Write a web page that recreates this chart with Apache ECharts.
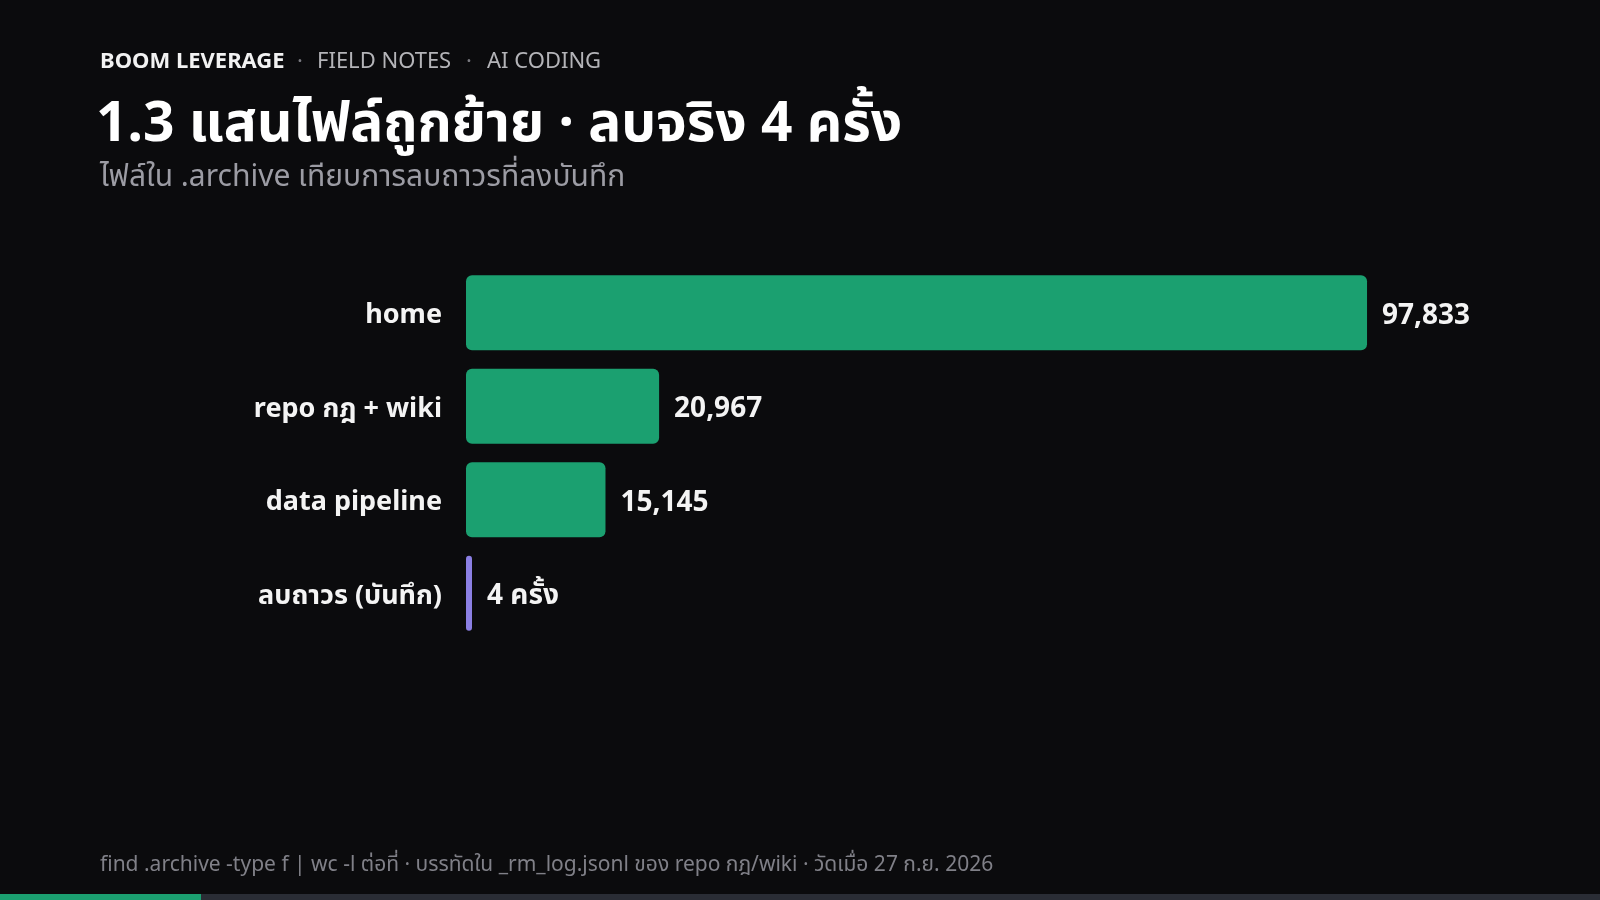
<!DOCTYPE html>
<html>
<head>
<meta charset="utf-8">
<script src="https://cdn.jsdelivr.net/npm/echarts@6/dist/echarts.min.js"></script>
<style>
html,body{margin:0;padding:0;background:#0b0b0d;}
#c{width:1600px;height:900px;}
</style>
</head>
<body>
<div id="c"></div>
<script>
const categories = ['home', 'repo กฎ + wiki', 'data pipeline', 'ลบถาวร (บันทึก)'];
const values = [97833, 20967, 15145, 4];
const units = ['', '', '', ' ครั้ง'];
const barColors = ['#1ba070', '#1ba070', '#1ba070', '#8b7fe3'];
const kicker = ['BOOM LEVERAGE', 'FIELD NOTES', 'AI CODING'];
const titleText = '1.3 แสนไฟล์ถูกย้าย · ลบจริง 4 ครั้ง';
const subtitleText = 'ไฟล์ใน .archive เทียบการลบถาวรที่ลงบันทึก';
const footerText = 'find .archive -type f | wc -l ต่อที่ · บรรทัดใน _rm_log.jsonl ของ repo กฎ/wiki · วัดเมื่อ 27 ก.ย. 2026';

const FONT = '"Noto Sans", "Noto Sans Thai", "Noto Sans CJK SC", sans-serif';
const chart = echarts.init(document.getElementById('c'));

chart.setOption({
  backgroundColor: '#0b0b0d',
  animation: false,
  grid: { left: 466, top: 266, height: 374, width: 921, containLabel: false },
  xAxis: {
    type: 'value', min: 0, max: 100000,
    show: false
  },
  yAxis: {
    type: 'category', data: categories, inverse: true,
    axisLine: { show: false }, axisTick: { show: false },
    axisLabel: {
      margin: 24,
      formatter: '{c|{value}}',
      rich: { c: { color: '#f4f4f4', fontSize: 27, fontWeight: 'bold', fontFamily: FONT, padding: [6, 0, 0, 0] } }
    }
  },
  series: [{
    type: 'bar',
    barCategoryGap: '20%',
    barMinHeight: 6,
    data: values.map((v, i) => ({
      value: v,
      itemStyle: { color: barColors[i], borderRadius: i === 3 ? 3 : 6 }
    })),
    label: {
      show: true, position: 'right', distance: 15, offset: [0, 3],
      color: '#f4f4f4', fontSize: 28, fontWeight: 'bold', fontFamily: FONT,
      formatter: p => p.value.toLocaleString('en-US') + units[p.dataIndex]
    }
  }],
  graphic: [
    { type: 'text', left: 100, top: 51, style: { text: kicker[0], fill: '#f2f2f2', font: 'bold 22px ' + FONT } },
    { type: 'text', left: 297, top: 51, style: { text: '·', fill: '#7a7a80', font: '22px ' + FONT } },
    { type: 'text', left: 317, top: 51, style: { text: kicker[1], fill: '#b4b4b8', font: '22px ' + FONT } },
    { type: 'text', left: 466, top: 51, style: { text: '·', fill: '#7a7a80', font: '22px ' + FONT } },
    { type: 'text', left: 487, top: 51, style: { text: kicker[2], fill: '#b4b4b8', font: '22px ' + FONT } },
    { type: 'text', left: 96, top: 98, style: { text: titleText, fill: '#ffffff', font: 'bold 55px ' + FONT } },
    { type: 'text', left: 100, top: 162, style: { text: subtitleText, fill: '#9c9ca4', font: '30px ' + FONT } },
    { type: 'text', left: 100, top: 855, style: { text: footerText, fill: '#808088', font: '21px ' + FONT } },
    { type: 'rect', left: 0, top: 894, shape: { width: 1600, height: 6 }, style: { fill: '#2a2d35' } },
    { type: 'rect', left: 0, top: 894, shape: { width: 201, height: 6 }, style: { fill: '#1ba070' } }
  ]
});
</script>
</body>
</html>
